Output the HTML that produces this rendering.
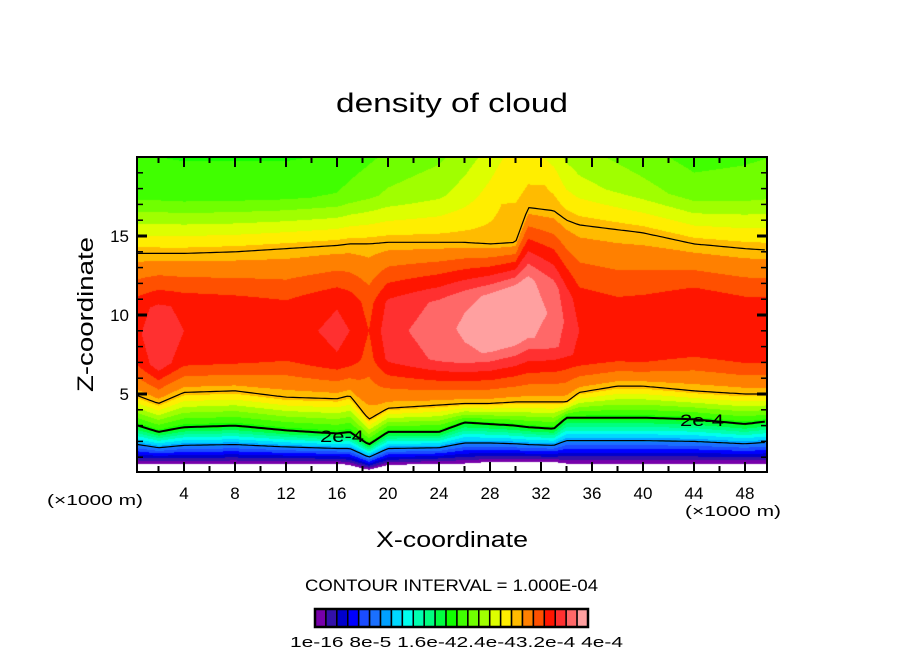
<!DOCTYPE html>
<html><head><meta charset="utf-8"><style>
body{margin:0;background:#fff;width:904px;height:654px;overflow:hidden;position:relative;font-family:"Liberation Sans",sans-serif}
canvas{position:absolute;left:137px;top:157px}
svg{position:absolute;left:0;top:0}
</style></head><body>
<canvas id="cv" width="630" height="315"></canvas>
<svg id="sv" width="904" height="654"></svg>
<script>
// data arrays (x in km, z in km, levels in colorbar index units: value = L*1.6e-5)
const xs     =[0,   2,   4,   8,   12,  16,  17,  18.5,20,  24,  26,  28,  30,  31,  33,  34,  35,  38,  40,  44,  48,  50];
const ground =[0.6, 0.6, 0.6, 0.6, 0.6, 0.6, 0.5, 0.2, 0.5, 0.6, 0.6, 0.7, 0.7, 0.7, 0.7, 0.6, 0.6, 0.6, 0.6, 0.6, 0.6, 0.6];
const z2e4   =[3.1, 2.6, 2.9, 3.0, 2.7, 2.5, 2.6, 1.8, 2.6, 2.6, 3.2, 3.1, 3.0, 2.9, 2.8, 3.5, 3.5, 3.5, 3.5, 3.4, 3.1, 3.3];
const z3e4lo =[5.0, 4.4, 5.1, 5.2, 4.8, 4.7, 4.9, 3.4, 4.1, 4.3, 4.4, 4.4, 4.5, 4.5, 4.5, 4.5, 5.1, 5.5, 5.5, 5.2, 5.0, 5.0];
const zPeak  =[9.0, 8.5, 9.0, 9.0, 9.0, 9.0, 9.0, 9.0, 9.0, 9.0, 9.2, 9.5, 10.0,10.5,10.0,9.5, 9.0, 9.0, 9.0, 9.5, 9.0, 9.0];
const peakL  =[21.6,22.8,22.0,21.8,21.5,22.3,22.0,21.0,22.6,23.6,24.2,24.5,24.6,24.6,23.8,22.8,22.0,21.6,21.7,21.8,21.7,21.7];
const z3e4hi =[13.9,13.9,13.9,14.0,14.2,14.4,14.5,14.5,14.6,14.6,14.6,14.5,14.6,16.8,16.6,16.0,15.7,15.4,15.2,14.5,14.2,14.1];
const topL   =[13.0,13.0,12.9,12.9,12.9,13.1,13.4,13.8,14.2,14.8,15.5,16.4,17.5,17.5,16.6,15.8,15.4,14.8,14.4,13.6,13.8,14.0];
const colors=["#7700aa","#3311aa","#0000cc","#0000ff","#1a4cff","#1a70ff","#00a0ff","#00d8ff","#00ffee","#00ffb0","#00ff80","#00ff40","#10ff00","#40ff00","#70ff00","#a0ff00","#ddff00","#ffee00","#ffbb00","#ff8000","#ff5000","#ff1500","#ff3030","#ff6868","#ffa0a0"];
const xTicks=[4,8,12,16,20,24,28,32,36,40,44,48];
const zTicks=[5,10,15];
const L2=12.5, L3=18.5, HW=1.8;

const X0=133, XS=12.75, Z0=473, ZS=15.8;
const px=x=>X0+XS*x, pz=z=>Z0-ZS*z;
function interp(arr,x){
  if(x<=xs[0])return arr[0];
  for(let i=1;i<xs.length;i++){ if(x<=xs[i]){const t=(x-xs[i-1])/(xs[i]-xs[i-1]);return arr[i-1]+t*(arr[i]-arr[i-1]);} }
  return arr[arr.length-1];
}
function levelAt(x,z){
  const g=interp(ground,x),a=interp(z2e4,x),b=interp(z3e4lo,x),p=interp(zPeak,x),pl=interp(peakL,x),c=interp(z3e4hi,x),t=interp(topL,x);
  if(z<g)return -1;
  const lo=Math.max(b+0.8,p-HW), hi=Math.min(c-0.8,p+HW);
  const zm=c+0.55*(20-c);
  const pts=[[g,0],[a,L2],[b,L3],[lo,pl-0.4],[p,pl],[hi,pl-0.4],[c,L3],[zm,Math.min(t+1,17.9)],[20,t]];
  for(let i=1;i<pts.length;i++){ if(z<=pts[i][0]){const q=(z-pts[i-1][0])/(pts[i][0]-pts[i-1][0]);return pts[i-1][1]+q*(pts[i][1]-pts[i-1][1]);} }
  return t;
}
const cv=document.getElementById('cv'),ctx=cv.getContext('2d');
for(let i=0;i<630;i++){
  const x=(137+i+0.5-X0)/XS;
  for(let j=0;j<315;j++){
    const z=(Z0-(157+j+0.5))/ZS;
    const L=levelAt(x,z);
    if(L<0)continue;
    const k=Math.max(0,Math.min(24,Math.floor(L)));
    ctx.fillStyle=colors[k];ctx.fillRect(i,j,1,1);
  }
}
const NS="http://www.w3.org/2000/svg",sv=document.getElementById('sv');
function mk(tag,at,txt){const e=document.createElementNS(NS,tag);for(const k in at)e.setAttribute(k,at[k]);if(txt!==undefined)e.textContent=txt;sv.appendChild(e);return e;}
function line(arr,name,w){
  let d="";for(let x=0.3;x<=49.7;x+=0.25){d+=(d?"L":"M")+px(x).toFixed(1)+","+pz(interp(arr,x)).toFixed(1);}
  const e=mk('path',{d:d,fill:"none",stroke:"#000","stroke-width":w});
  
  
}
line(z2e4,'contour-2e-4',2);line(z3e4lo,'contour-3e-4-lower',1.2);line(z3e4hi,'contour-3e-4-upper',1.2);
{let d="";for(let x=0.3;x<=49.7;x+=0.25){const g=interp(ground,x),a=interp(z2e4,x);const z=g+(a-g)*(6.25/L2);d+=(d?"L":"M")+px(x).toFixed(1)+","+pz(z).toFixed(1);}
 const e=mk('path',{d:d,fill:"none",stroke:"#000","stroke-width":1.2});
 
 }
let lb=mk('text',{x:320,y:442,"font-size":17,textLength:44,lengthAdjust:"spacingAndGlyphs"},"2e-4");
let lb2=mk('text',{x:680,y:426,"font-size":17,textLength:44,lengthAdjust:"spacingAndGlyphs"},"2e-4");
let fr=mk('rect',{x:137,y:157,width:630,height:315,fill:"none",stroke:"#000","stroke-width":2});

for(let x=2;x<=49;x+=2){const maj=x%4===0,l=maj?10:6,X=px(x);
  mk('line',{x1:X,y1:472,x2:X,y2:472-l,stroke:"#000","stroke-width":2});
  mk('line',{x1:X,y1:157,x2:X,y2:157+l,stroke:"#000","stroke-width":2});}
for(let z=1;z<=19;z++){const maj=z%5===0,l=maj?10:6,Y=pz(z);
  mk('line',{x1:137,y1:Y,x2:137+l,y2:Y,stroke:"#000","stroke-width":maj?3:1.5});
  mk('line',{x1:767,y1:Y,x2:767-l,y2:Y,stroke:"#000","stroke-width":maj?3:1.5});}
xTicks.forEach(v=>{const t=mk('text',{x:px(v),y:499,"font-size":17,"text-anchor":"middle"},String(v));
  });
zTicks.forEach(v=>{const t=mk('text',{x:129,y:pz(v)+6,"font-size":17,"text-anchor":"end"},String(v));
  });
let u1=mk('text',{x:47,y:505,"font-size":15,textLength:96,lengthAdjust:"spacingAndGlyphs"},"(×1000 m)");
let u2=mk('text',{x:685,y:516,"font-size":15,textLength:96,lengthAdjust:"spacingAndGlyphs"},"(×1000 m)");
let xt=mk('text',{x:376,y:547,"font-size":22,textLength:152,lengthAdjust:"spacingAndGlyphs"},"X-coordinate");
let zt=mk('text',{x:0,y:0,"font-size":22,textLength:155,lengthAdjust:"spacingAndGlyphs",transform:"translate(93,392) rotate(-90)"},"Z-coordinate");
let tt=mk('text',{x:336,y:112,"font-size":27,textLength:232,lengthAdjust:"spacingAndGlyphs"},"density of cloud");
let ci=mk('text',{x:305,y:591,"font-size":17,textLength:293,lengthAdjust:"spacingAndGlyphs"},"CONTOUR INTERVAL = 1.000E-04");
const bw=(588-315)/25;
colors.forEach((c,i)=>{const r=mk('rect',{x:315+i*bw,y:609,width:bw,height:18,fill:c,stroke:"#000","stroke-width":1.5});
  });
mk('rect',{x:315,y:609,width:273,height:18,fill:"none",stroke:"#000","stroke-width":2.5});
let cl=mk('text',{x:290,y:647,"font-size":15,textLength:333,lengthAdjust:"spacingAndGlyphs"},"1e-16 8e-5 1.6e-42.4e-43.2e-4 4e-4");

</script>
</body></html>
